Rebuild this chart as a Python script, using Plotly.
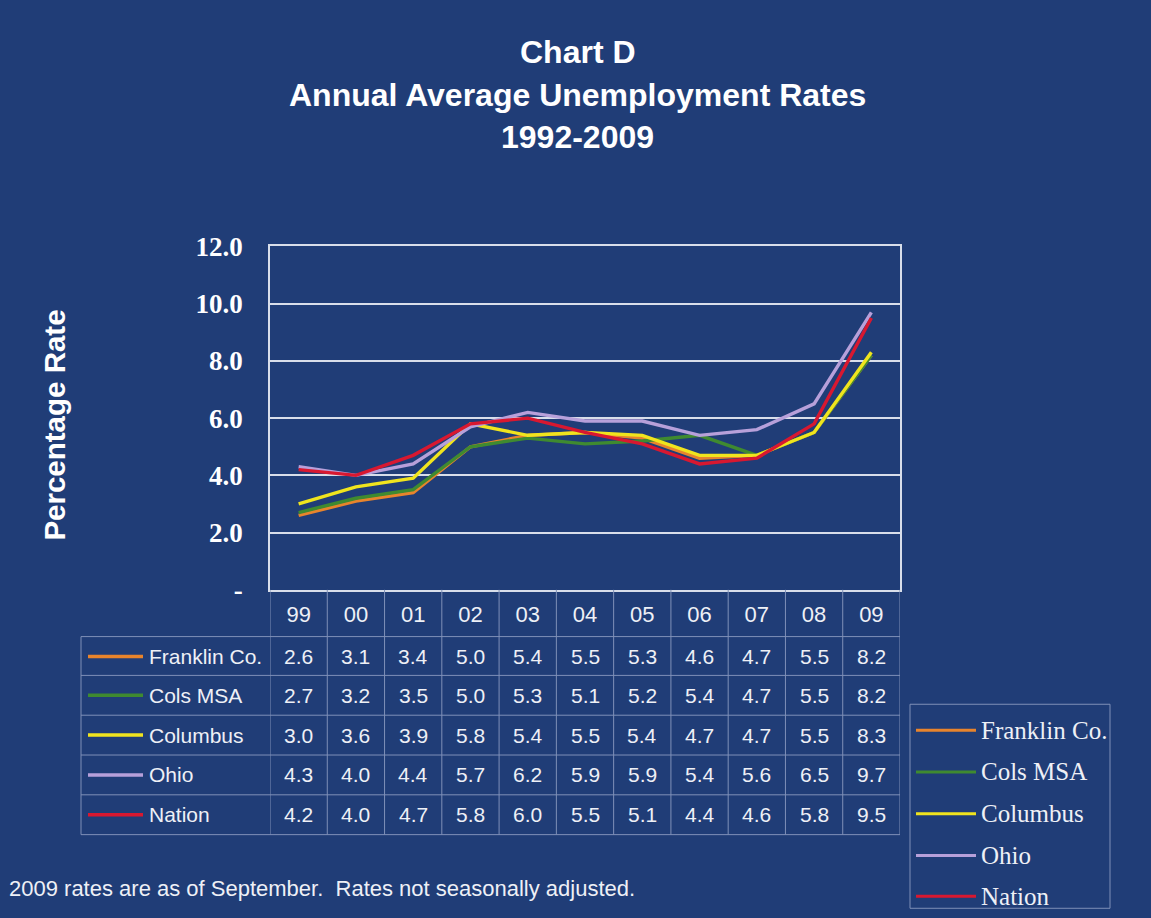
import plotly.graph_objects as go

# Annual average unemployment rates (percent)
years = ["99", "00", "01", "02", "03", "04", "05", "06", "07", "08", "09"]
series_names = ["Franklin Co.", "Cols MSA", "Columbus", "Ohio", "Nation"]
franklin = [2.6, 3.1, 3.4, 5.0, 5.4, 5.5, 5.3, 4.6, 4.7, 5.5, 8.2]
cols_msa = [2.7, 3.2, 3.5, 5.0, 5.3, 5.1, 5.2, 5.4, 4.7, 5.5, 8.2]
columbus = [3.0, 3.6, 3.9, 5.8, 5.4, 5.5, 5.4, 4.7, 4.7, 5.5, 8.3]
ohio = [4.3, 4.0, 4.4, 5.7, 6.2, 5.9, 5.9, 5.4, 5.6, 6.5, 9.7]
nation = [4.2, 4.0, 4.7, 5.8, 6.0, 5.5, 5.1, 4.4, 4.6, 5.8, 9.5]
y_ticks = [0, 2, 4, 6, 8, 10, 12]
y_tick_text = ["-", "2.0", "4.0", "6.0", "8.0", "10.0", "12.0"]

series_values = [franklin, cols_msa, columbus, ohio, nation]
colors = ["#e8842c", "#3f8a30", "#f0e41e", "#b7a0da", "#d81830"]

W, H = 1151, 918
BG = "#203d77"
TEXT = "#eef0f6"
GRID = "#d8deea"
TABLE_LINE = "#7f90b8"

# vertical page placement of the figure (top offset and scale of the rendered page)
V_OFF, V_SCALE = 12.4, 0.972


def px(x):
    return x / W


def py(y):
    return 1 - ((y - V_OFF) / V_SCALE) / H


fig = go.Figure()
for name, vals, col in zip(series_names, series_values, colors):
    fig.add_trace(go.Scatter(
        x=list(range(len(years))), y=vals, name=name, mode="lines",
        line=dict(color=col, width=3.4),
        showlegend=False,
    ))

shapes = []
annotations = []

# title lines
for txt, yy in [("Chart D", 50), ("Annual Average Unemployment Rates", 93), ("1992-2009", 135)]:
    annotations.append(dict(text=txt, xref="paper", yref="paper", x=px(578), y=py(yy),
                            showarrow=False, xanchor="center", yanchor="middle",
                            font=dict(family="Liberation Sans, Arial", size=32, color="white",
                                      weight="bold")))

# y-axis title
annotations.append(dict(text="Percentage Rate", xref="paper", yref="paper",
                        x=px(55), y=py(425), textangle=-90, showarrow=False,
                        xanchor="center", yanchor="middle",
                        font=dict(family="Liberation Sans, Arial", size=29.5, color="white",
                                  weight="bold")))

# data table below the plot
row_y = [657, 696, 736, 776, 816]
row_lines = [637, 676, 716, 756, 796, 836]
tab_left, plot_left, plot_right, plot_top, plot_bottom = 81, 270, 900, 245, 590

for yy in row_lines:
    shapes.append(dict(type="line", xref="paper", yref="paper",
                       x0=px(tab_left), x1=px(plot_right), y0=py(yy), y1=py(yy),
                       line=dict(color=TABLE_LINE, width=1)))
shapes.append(dict(type="line", xref="paper", yref="paper",
                   x0=px(tab_left), x1=px(tab_left), y0=py(row_lines[0]), y1=py(row_lines[-1]),
                   line=dict(color=TABLE_LINE, width=1)))
for i in range(len(years) + 1):
    shapes.append(dict(type="line", xref="x", yref="paper",
                       x0=i - 0.5, x1=i - 0.5, y0=py(plot_bottom), y1=py(row_lines[-1]),
                       line=dict(color=TABLE_LINE, width=1)))

for name, vals, col, yy in zip(series_names, series_values, colors, row_y):
    shapes.append(dict(type="line", xref="paper", yref="paper",
                       x0=px(88), x1=px(143), y0=py(yy), y1=py(yy),
                       line=dict(color=col, width=3.5)))
    annotations.append(dict(text=name, xref="paper", yref="paper", x=px(147), y=py(yy),
                            showarrow=False, xanchor="left", yanchor="middle",
                            font=dict(family="Liberation Sans, Arial", size=21, color=TEXT)))
    for i, v in enumerate(vals):
        annotations.append(dict(text=f"{v:.1f}", xref="x", yref="paper", x=i, y=py(yy),
                                showarrow=False, xanchor="center", yanchor="middle",
                                font=dict(family="Liberation Sans, Arial", size=21, color=TEXT)))

# legend box on the right
shapes.append(dict(type="rect", xref="paper", yref="paper",
                   x0=px(910), x1=px(1110), y0=py(910), y1=py(705),
                   line=dict(color=TABLE_LINE, width=1)))
for name, col, yy in zip(series_names, colors, [731, 773, 815, 857, 898]):
    shapes.append(dict(type="line", xref="paper", yref="paper",
                       x0=px(916), x1=px(976), y0=py(yy), y1=py(yy),
                       line=dict(color=col, width=3)))
    annotations.append(dict(text=name, xref="paper", yref="paper", x=px(979), y=py(yy),
                            showarrow=False, xanchor="left", yanchor="middle",
                            font=dict(family="Liberation Serif, Times New Roman", size=25,
                                      color=TEXT)))

# footnote
annotations.append(dict(text="2009 rates are as of September.  Rates not seasonally adjusted.",
                        xref="paper", yref="paper", x=px(7), y=py(890), showarrow=False,
                        xanchor="left", yanchor="middle",
                        font=dict(family="Liberation Sans, Arial", size=22, color=TEXT)))

fig.update_layout(
    width=W, height=H,
    margin=dict(l=0, r=0, t=0, b=0),
    paper_bgcolor=BG,
    plot_bgcolor=BG,
    showlegend=False,
    shapes=shapes,
    annotations=annotations,
    xaxis=dict(
        domain=[px(plot_left), px(plot_right)],
        range=[-0.5, len(years) - 0.5],
        tickvals=list(range(len(years))), ticktext=years,
        showgrid=False, zeroline=False,
        showline=True, mirror=True, linecolor=GRID, linewidth=1.5,
        ticks="", tickfont=dict(family="Liberation Sans, Arial", size=22, color=TEXT),
        ticklabelstandoff=4,
        fixedrange=True,
    ),
    yaxis=dict(
        domain=[py(plot_bottom), py(plot_top)],
        range=[0, 12], tickvals=y_ticks, ticktext=y_tick_text,
        showgrid=True, gridcolor=GRID, gridwidth=1.5, zeroline=False,
        showline=True, mirror=True, linecolor=GRID, linewidth=1.5,
        ticks="", ticklabelstandoff=20,
        tickfont=dict(family="Liberation Serif, Times New Roman", size=27, color="white",
                      weight="bold"),
        fixedrange=True,
    ),
)

fig.write_html("out.html")
